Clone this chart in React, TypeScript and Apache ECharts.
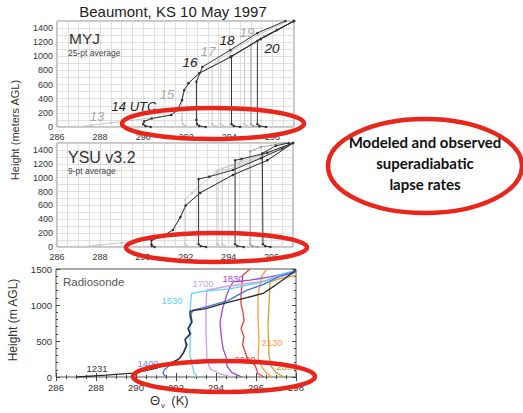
import React, { useEffect, useRef } from 'react';
import * as echarts from 'echarts';

const FONT = '"Liberation Sans", Arial, Helvetica, sans-serif';

// ---------- tick labels ----------
const xTicksModel = [286, 288, 290, 292, 294, 296];
const yTicksModel = [0, 200, 400, 600, 800, 1000, 1200, 1400];

// ---------- MYJ (25-pt average) profiles: [theta_v K, height m] ----------
const myj13 = [[286.9, 0], [287.6, 25], [288.5, 60], [289.5, 95], [290.3, 125], [291.3, 170], [291.6, 240], [291.8, 380], [291.9, 520], [292.1, 620], [292.6, 760], [294.05, 990], [295.45, 1245], [297, 1500]];
const myj14 = [[290.35, 0], [290.1, 15], [290.0, 40], [290.05, 80], [290.4, 120], [291.3, 170], [291.6, 240], [291.8, 380], [291.9, 520], [292.1, 620], [292.6, 760], [294.05, 990], [295.45, 1245], [297, 1500]];
const myj15 = [[292.2, 0], [291.95, 15], [291.85, 40], [291.8, 100], [291.8, 380], [291.9, 520], [292.1, 620], [292.6, 760], [294.05, 990], [295.45, 1245], [297, 1500]];
const myj16 = [[292.9, 0], [292.6, 15], [292.5, 40], [292.47, 100], [292.47, 640], [292.75, 850], [294.05, 1090], [295.3, 1330], [296.6, 1500]];
const myj17a = [[293.6, 0], [293.3, 15], [293.2, 40], [293.2, 855], [293.5, 950], [294.05, 1060], [295.3, 1300], [296.7, 1500]];
const myj17b = [[294.0, 0], [293.7, 15], [293.6, 40], [293.6, 920], [294.05, 1000], [295.45, 1245], [297, 1500]];
const myj18 = [[294.5, 0], [294.2, 15], [294.1, 40], [294.1, 1000], [295.45, 1245], [297, 1500]];
const myj18b = [[295.1, 0], [294.8, 15], [294.7, 40], [294.7, 1105], [295.45, 1245], [297, 1500]];
const myj19 = [[295.4, 0], [295.1, 15], [295.0, 40], [295.0, 1165], [295.6, 1280], [297, 1500]];
const myj20 = [[295.7, 0], [295.4, 15], [295.3, 40], [295.3, 1220], [296.2, 1370], [297, 1500]];

// ---------- YSU v3.2 (9-pt average) profiles ----------
const ysu13 = [[287, 0], [288, 30], [289, 60], [289.9, 100], [290.95, 160], [291.4, 245], [291.75, 430], [292.0, 600], [292.67, 780], [294.2, 1040], [295.8, 1250], [297, 1500]];
const ysu14 = [[290.55, 0], [290.42, 15], [290.4, 40], [290.4, 95], [290.95, 160], [291.4, 245], [291.75, 430], [292.0, 600], [292.67, 780], [294.2, 1040], [295.8, 1250], [297, 1500]];
const ysu15 = [[292.3, 0], [292.05, 15], [291.97, 40], [291.97, 680], [292.3, 780], [293.5, 1110], [294.6, 1240], [296.0, 1380], [297, 1500]];
const ysu16 = [[292.95, 0], [292.7, 15], [292.6, 40], [292.6, 980], [293.1, 1015], [294.2, 1110], [295.5, 1280], [296.5, 1420], [297, 1500]];
const ysu17a = [[293.8, 0], [293.55, 15], [293.45, 40], [293.45, 1080], [294.3, 1150], [295.5, 1290], [297, 1500]];
const ysu17b = [[294.05, 0], [293.8, 15], [293.7, 40], [293.7, 1130], [294.5, 1200], [296.0, 1370], [297, 1500]];
const ysu18 = [[294.7, 0], [294.4, 15], [294.3, 40], [294.3, 1250], [294.6, 1270], [295.8, 1360], [297, 1500]];
const ysu19 = [[295.35, 0], [295.1, 15], [295.0, 40], [295.0, 1380], [295.5, 1440], [296.6, 1500]];
const ysu20 = [[295.95, 0], [295.7, 15], [295.6, 40], [295.57, 1350], [296.2, 1460], [296.8, 1500]];

// ---------- Radiosonde profiles ----------
const r1231 = [[287.05, 0], [288.5, 25], [289.85, 55], [291.05, 125], [291.85, 210], [292.2, 260], [292.4, 350], [292.55, 445], [292.45, 520], [292.7, 600], [292.6, 670], [292.8, 760], [292.7, 860], [292.7, 915], [293.5, 950], [294.35, 1020], [295.35, 1090], [296.35, 1160], [297.0, 1280], [297.7, 1420], [298, 1490]];
const r1400 = [[291.5, 0], [291.35, 50], [291.4, 95], [291.7, 165], [292.1, 240], [292.35, 330], [292.5, 430], [292.45, 520], [292.75, 600], [292.6, 680], [292.8, 770], [292.75, 870], [292.85, 930], [293.6, 980], [294.6, 1060], [295.5, 1200], [296.4, 1290], [297.2, 1400], [298, 1460]];
const r1530 = [[293.05, 0], [292.9, 60], [292.8, 165], [292.7, 300], [292.7, 700], [292.72, 1000], [292.78, 1160], [293.35, 1190], [294.7, 1225], [296.35, 1320], [297.35, 1435], [298, 1480]];
const r1700 = [[294.8, 0], [294.2, 45], [293.7, 115], [293.55, 250], [293.5, 600], [293.5, 1000], [293.55, 1205], [294.35, 1250], [296.35, 1330], [297.5, 1415], [298, 1450]];
const r1830 = [[295.3, 0], [294.8, 60], [294.55, 150], [294.53, 255], [294.35, 400], [294.28, 530], [294.2, 760], [294.33, 950], [294.53, 1135], [294.7, 1250], [294.85, 1320], [295.7, 1345], [296.7, 1390], [297.85, 1460], [298, 1475]];
const r2000 = [[296.4, 0], [296.1, 45], [295.95, 165], [295.6, 235], [295.33, 445], [295.4, 560], [295.25, 670], [295.4, 780], [295.35, 900], [295.25, 1020], [295.25, 1140], [295.3, 1280], [295.33, 1410], [295.7, 1500]];
const r2130 = [[296.8, 0], [296.5, 60], [296.35, 115], [296.1, 255], [296.15, 500], [296.1, 800], [296.1, 1140], [296.3, 1410], [296.55, 1500]];
const r2300 = [[297.4, 0], [297.0, 60], [296.75, 150], [296.65, 300], [296.6, 700], [296.65, 1000], [296.7, 1320], [297.2, 1365], [298, 1410]];

const BLACK = '#333333';
const GRAY = '#a0a0a0';
const LIGHT = '#c8c8c8';
const RED = '#e8261c';

function line(axis: number, data: number[][], color: string, width: number, dots: boolean, z = 2) {
  return {
    type: 'line',
    xAxisIndex: axis,
    yAxisIndex: axis,
    data,
    showSymbol: dots,
    symbol: 'circle',
    symbolSize: 2.5,
    itemStyle: { color },
    lineStyle: { color, width },
    silent: true,
    z,
  };
}

function modelX(grid: number) {
  return {
    gridIndex: grid,
    type: 'value',
    min: 286,
    max: 297,
    interval: 0.5,
    axisLine: { show: false },
    axisTick: { show: false },
    axisLabel: {
      fontSize: 9,
      fontFamily: FONT,
      color: '#333',
      margin: 5,
      showMaxLabel: false,
      formatter: (v: number) => (xTicksModel.includes(v) ? String(v) : ''),
    },
    splitLine: { show: true, lineStyle: { color: '#d2d2d2', width: 0.7 } },
  };
}
function modelY(grid: number) {
  return {
    gridIndex: grid,
    type: 'value',
    min: 0,
    max: 1500,
    interval: 100,
    axisLine: { show: false },
    axisTick: { show: false },
    axisLabel: {
      fontSize: 9,
      fontFamily: FONT,
      color: '#333',
      margin: 4,
      showMaxLabel: false,
      formatter: (v: number) => (yTicksModel.includes(v) ? String(v) : ''),
    },
    splitLine: { show: true, lineStyle: { color: '#d2d2d2', width: 0.7 } },
  };
}

function txt(x: number, y: number, text: string, size: number, color: string, opts: any = {}) {
  return {
    type: 'text',
    x,
    y,
    rotation: opts.rotation || 0,
    z: 50,
    silent: true,
    style: {
      text,
      fill: color,
      fontSize: size,
      fontFamily: opts.family || FONT,
      fontWeight: opts.weight || 'normal',
      fontStyle: opts.italic ? 'italic' : 'normal',
      textAlign: opts.align || 'center',
      align: opts.align || 'center',
      textVerticalAlign: 'middle',
      verticalAlign: 'middle',
    },
  };
}

function ell(cx: number, cy: number, rx: number, ry: number) {
  return {
    type: 'ellipse',
    z: 100,
    silent: true,
    shape: { cx, cy, rx, ry },
    style: { fill: 'rgba(0,0,0,0)', stroke: RED, lineWidth: 4.5 },
  };
}

const plainNum = (v: number) => String(v);

export default function App() {
  const ref = useRef<HTMLDivElement>(null);
  useEffect(() => {
    document.body.style.margin = '0';
    const chart = echarts.init(ref.current!, null, { renderer: 'svg' });
    const option: any = {
      animation: false,
      backgroundColor: '#ffffff',
      grid: [
        { left: 57, top: 21, width: 237, height: 106, show: true, borderColor: '#8a8a8a', borderWidth: 1 },
        { left: 57, top: 143, width: 236, height: 104, show: true, borderColor: '#8a8a8a', borderWidth: 1 },
        { left: 56, top: 269, width: 240, height: 108, show: true, borderColor: '#555', borderWidth: 1 },
      ],
      xAxis: [
        modelX(0),
        modelX(1),
        {
          gridIndex: 2, type: 'value', min: 286, max: 298, interval: 2,
          axisLine: { show: false },
          axisTick: { show: true, inside: true, length: 4, lineStyle: { color: '#444' } },
          minorTick: { show: true, splitNumber: 4, length: 2, lineStyle: { color: '#444' } },
          axisLabel: { fontSize: 9.5, fontFamily: FONT, color: '#333', margin: 5, formatter: plainNum },
          splitLine: { show: false },
        },
        {
          gridIndex: 2, type: 'value', min: 286, max: 298, interval: 2, position: 'top',
          axisLine: { show: false },
          axisTick: { show: true, inside: true, length: 4, lineStyle: { color: '#444' } },
          minorTick: { show: true, splitNumber: 4, length: 2, lineStyle: { color: '#444' } },
          axisLabel: { show: false },
          splitLine: { show: false },
        },
      ],
      yAxis: [
        modelY(0),
        modelY(1),
        {
          gridIndex: 2, type: 'value', min: 0, max: 1500, interval: 500,
          axisLine: { show: false },
          axisTick: { show: true, inside: true, length: 4, lineStyle: { color: '#444' } },
          minorTick: { show: true, splitNumber: 5, length: 2, lineStyle: { color: '#444' } },
          axisLabel: { fontSize: 9.5, fontFamily: FONT, color: '#333', margin: 4, formatter: plainNum },
          splitLine: { show: false },
        },
        {
          gridIndex: 2, type: 'value', min: 0, max: 1500, interval: 500, position: 'right',
          axisLine: { show: false },
          axisTick: { show: true, inside: true, length: 4, lineStyle: { color: '#444' } },
          minorTick: { show: true, splitNumber: 5, length: 2, lineStyle: { color: '#444' } },
          axisLabel: { show: false },
          splitLine: { show: false },
        },
      ],
      series: [
        // MYJ
        line(0, myj13, LIGHT, 1, true),
        line(0, myj15, LIGHT, 1, true),
        line(0, myj17a, LIGHT, 1, true),
        line(0, myj17b, LIGHT, 1, true),
        line(0, myj18b, LIGHT, 1, true),
        line(0, myj19, GRAY, 1, true),
        line(0, myj14, BLACK, 1, true, 3),
        line(0, myj16, BLACK, 1, true, 3),
        line(0, myj18, BLACK, 1, true, 3),
        line(0, myj20, BLACK, 1, true, 3),
        // YSU
        line(1, ysu13, LIGHT, 1, true),
        line(1, ysu15, LIGHT, 1, true),
        line(1, ysu17a, LIGHT, 1, true),
        line(1, ysu17b, LIGHT, 1, true),
        line(1, ysu19, GRAY, 1, true),
        line(1, ysu14, BLACK, 1, true, 3),
        line(1, ysu16, BLACK, 1, true, 3),
        line(1, ysu18, BLACK, 1, true, 3),
        line(1, ysu20, BLACK, 1, true, 3),
        // Radiosonde
        line(2, r2300, '#c9a332', 1.3, false),
        line(2, r2130, '#ff9a48', 1.3, false),
        line(2, r2000, '#f23c3c', 1.3, false),
        line(2, r1830, '#a247d6', 1.3, false),
        line(2, r1700, '#c9a2e0', 1.3, false),
        line(2, r1530, '#62d2f4', 1.3, false),
        line(2, r1400, '#4d72de', 1.3, false),
        line(2, r1231, '#2a2a2a', 1.3, false),
      ],
      graphic: [
        txt(173, 11, 'Beaumont, KS 10 May 1997', 15, '#222'),
        txt(15, 130, 'Height (meters AGL)', 11, '#333', { rotation: Math.PI / 2 }),
        txt(13, 320, 'Height (m AGL)', 12, '#333', { rotation: Math.PI / 2 }),
        txt(69, 38, 'MYJ', 15.5, '#333', { align: 'left' }),
        txt(68, 53, '25-pt average', 8.5, '#444', { align: 'left' }),
        txt(68, 157, 'YSU v3.2', 16, '#333', { align: 'left' }),
        txt(68, 171, '9-pt average', 8.5, '#444', { align: 'left' }),
        txt(63, 282, 'Radiosonde', 11.5, '#555', { align: 'left' }),
        // time labels MYJ
        txt(97, 116, '13', 13, '#aaa', { italic: true }),
        txt(134, 106, '14 UTC', 13, '#222', { italic: true }),
        txt(167, 94, '15', 13, '#aaa', { italic: true }),
        txt(190, 62, '16', 13.5, '#222', { italic: true }),
        txt(208, 51, '17', 13.5, '#aaa', { italic: true }),
        txt(227, 40, '18', 13.5, '#222', { italic: true }),
        txt(247, 32, '19', 13.5, '#aaa', { italic: true }),
        txt(272, 48, '20', 13.5, '#222', { italic: true }),
        // radiosonde labels
        txt(97, 368, '1231', 9.5, '#333'),
        txt(148, 363, '1400', 9.5, '#6a8ae0'),
        txt(172, 300, '1530', 9.5, '#62d2f4'),
        txt(203, 283, '1700', 9.5, '#c9a2e0'),
        txt(233, 278, '1830', 9.5, '#a247d6'),
        txt(245, 359, '2000', 9.5, '#f23c3c'),
        txt(272, 342, '2130', 9.5, '#ff9a48'),
        txt(287, 366, '2300', 9.5, '#c9a332'),
        // x axis name
        txt(155, 400, 'Θ', 13, '#333'),
        txt(163, 405, 'v', 8, '#333'),
        txt(180, 400, '(K)', 13, '#333'),
        // ellipses
        ell(213, 123.5, 91, 15.5),
        ell(216.5, 247.5, 90.5, 14.5),
        ell(224, 376.5, 91, 15.5),
        ell(425, 166, 97, 47),
        // callout text
        txt(425, 142, 'Modeled and observed', 15, '#111', { weight: 'bold', family: 'Lato, "Open Sans", sans-serif' }),
        txt(425, 163, 'superadiabatic', 15, '#111', { weight: 'bold', family: 'Lato, "Open Sans", sans-serif' }),
        txt(425, 184, 'lapse rates', 15, '#111', { weight: 'bold', family: 'Lato, "Open Sans", sans-serif' }),
      ],
    };
    chart.setOption(option);
    return () => chart.dispose();
  }, []);
  return <div ref={ref} style={{ position: 'absolute', left: 0, top: 0, width: 523, height: 413 }} />;
}
